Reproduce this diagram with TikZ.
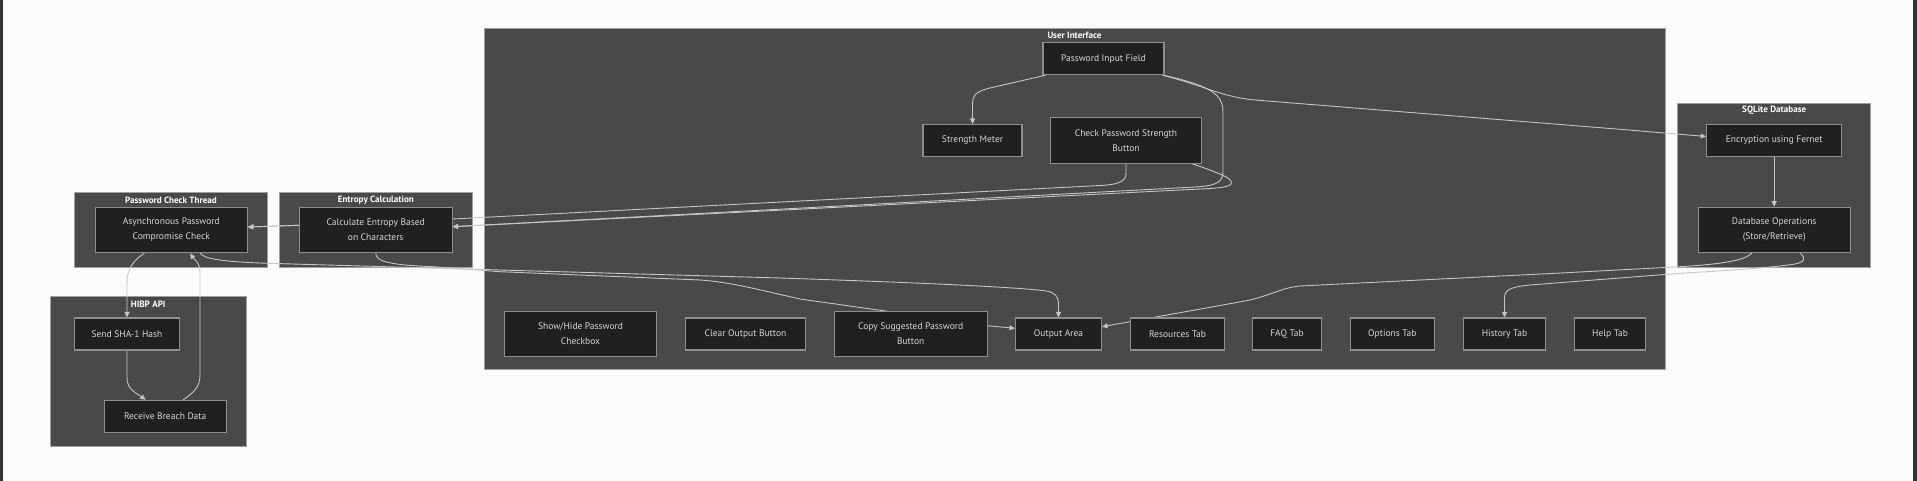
\documentclass[tikz,border=0pt]{standalone}
\usepackage{fontspec}
\setmainfont{PT Sans}
\usetikzlibrary{arrows.meta}
\definecolor{pagebg}{HTML}{FBFBFB}
\definecolor{framebar}{HTML}{333333}
\definecolor{clfill}{HTML}{484948}
\definecolor{clline}{HTML}{A0A0A0}
\definecolor{ndfill}{HTML}{1F2020}
\definecolor{ndline}{HTML}{8E8E8E}
\definecolor{ndtext}{HTML}{D6D6D6}
\definecolor{edgecol}{HTML}{C6C6C6}
\pgfdeclarelayer{bg}
\pgfdeclarelayer{edges}
\pgfsetlayers{bg,edges,main}
\tikzset{
  box/.style={draw=ndline, fill=ndfill, line width=1.1pt, text=ndtext,
    font=\fontsize{9.5}{15}\selectfont, align=center, inner sep=0pt, minimum height=32pt},
  tallbox/.style={box, minimum height=45.5pt},
  cluster/.style={draw=clline, fill=clfill, line width=0.9pt, inner sep=0pt},
  ctitle/.style={text=white, font=\fontsize{9.1}{12}\selectfont\bfseries, inner sep=0pt},
  flow/.style={draw=edgecol, line width=0.9pt},
  arr/.style={flow, -{Triangle[length=5.5pt,width=5pt]}},
}
\begin{document}
\begin{tikzpicture}[x=1pt,y=-1pt]
\begin{pgfonlayer}{bg}
  \fill[pagebg] (0,0) rectangle (1917,481);
  \useasboundingbox (0,0) rectangle (1917,481);
  \fill[framebar] (0,0) rectangle (3.3,481);
  \fill[framebar] (1913.3,0) rectangle (1917,481);
  % clusters
  \node[cluster, minimum width=1181pt, minimum height=341pt] (ui) at (1074.5,198.5) {};
  \node[cluster, minimum width=193pt, minimum height=164pt] (sql) at (1774.2,185.3) {};
  \node[cluster, minimum width=193.4pt, minimum height=74.6pt] (pct) at (171,230) {};
  \node[cluster, minimum width=193pt, minimum height=74.6pt] (ent) at (375.8,230) {};
  \node[cluster, minimum width=196.3pt, minimum height=150pt] (hibp) at (148.2,371.7) {};
\end{pgfonlayer}
% cluster titles
\node[ctitle] (uit) at (1074.5,35) {User Interface};
\node[ctitle] (sqlt) at (1774.2,110.7) {SQLite Database};
\node[ctitle] (pctt) at (171,200) {Password Check Thread};
\node[ctitle] (entt) at (375.8,200) {Entropy Calculation};
\node[ctitle] (hibpt) at (148.2,304) {HIBP API};
% nodes
\node[box, minimum width=121pt] (pif) at (1103.5,58.7) {Password Input Field};
\node[box, minimum width=99pt] (sm) at (972.5,140.5) {Strength Meter};
\node[tallbox, minimum width=151.6pt] (chk) at (1126,140.5) {Check Password Strength\\Button};
\node[box, minimum width=135pt] (enc) at (1774.2,140.5) {Encryption using Fernet};
\node[tallbox, minimum width=151.7pt] (dbo) at (1774.2,230) {Database Operations\\(Store/Retrieve)};
\node[tallbox, minimum width=152pt] (async) at (171.3,230) {Asynchronous Password\\Compromise Check};
\node[tallbox, minimum width=152.7pt] (calc) at (375.7,230) {Calculate Entropy Based\\on Characters};
\node[box, minimum width=105.4pt] (send) at (127,334) {Send SHA-1 Hash};
\node[box, minimum width=121.7pt] (recv) at (165.2,416.3) {Receive Breach Data};
\node[tallbox, minimum width=152.5pt] (show) at (580.5,334) {Show/Hide Password\\Checkbox};
\node[box, minimum width=120.3pt] (clear) at (745.5,334) {Clear Output Button};
\node[tallbox, minimum width=152.8pt] (copy) at (910.7,334) {Copy Suggested Password\\Button};
\node[box, minimum width=86pt] (out) at (1058.5,334) {Output Area};
\node[box, minimum width=94pt] (res) at (1177.5,334) {Resources Tab};
\node[box, minimum width=68.5pt] (faq) at (1287,334) {FAQ Tab};
\node[box, minimum width=84.5pt] (opt) at (1392.3,334) {Options Tab};
\node[box, minimum width=82pt] (his) at (1504.5,334) {History Tab};
\node[box, minimum width=71pt] (help) at (1610.1,334) {Help Tab};
% edges
\begin{pgfonlayer}{edges}
  % PIF -> Strength Meter
  \draw[arr] ([xshift=3pt]pif.south west) -- (990,88) .. controls (975,92) and (972.5,95) .. (972.5,106) -- (sm.north);
  % PIF -> Encryption
  \draw[arr] ([xshift=-2pt]pif.south east) .. controls (1205,86) and (1222,97) .. (1255,100) -- (1620,129.3) -- ([yshift=4pt]enc.west);
  % PIF -> Calc
  \draw[arr] ([xshift=-1pt]pif.south east) .. controls (1212,86) and (1223,95) .. (1223,112) -- (1223,172) .. controls (1223,183) and (1214,186) .. (1195,187) -- ([yshift=3.3pt]calc.east);
  % Check (loop) -> Calc
  \draw[arr] ([xshift=-10pt]chk.south east) .. controls (1222,174) and (1234,179) .. (1231,184) .. controls (1228,188) and (1212,188.5) .. (1190,189.5) -- ([yshift=3.3pt]calc.east);
  % Check -> Async (passes under Calc)
  \draw[arr] (chk.south) -- (1126,173) .. controls (1126,182) and (1118,184.5) .. (1100,185.5) -- ([yshift=11pt]calc.east) -- ([yshift=4.7pt]calc.west) -- ([yshift=3pt]async.east);
  % Calc -> Async
  \draw[arr] ([yshift=4.7pt]calc.west) -- ([yshift=3pt]async.east);
  % Async -> Send
  \draw[arr] ([xshift=-27pt]async.south) .. controls (134,260) and (127,268) .. (127,283) -- (send.north);
  % Send -> Receive
  \draw[arr] (send.south) -- (127,378) .. controls (127,389) and (136,393) .. ([xshift=-19.5pt]recv.north);
  % Receive -> Async
  \draw[arr] ([xshift=18pt]recv.north) .. controls (195,392) and (200,386) .. (200,375) -- (200,272) .. controls (200,262) and (193,258) .. ([xshift=19pt]async.south);
  % Async -> Output
  \draw[arr] ([xshift=29pt]async.south) .. controls (204,258) and (215,261.5) .. (268,263.3) -- (500,270) -- (780,278) .. controls (900,282) and (1020,287) .. (1046,291) .. controls (1055,292.5) and (1058.5,296) .. (1058.5,305) -- (out.north);
  % Calc -> Output (passes under Copy)
  \draw[arr] (calc.south) .. controls (375.7,262) and (392,265) .. (433,266.7) -- (500,271.7) -- (700,280) .. controls (730,282) and (760,290) .. (800,299) -- ([xshift=-27.7pt]copy.north) -- ([yshift=8.3pt]copy.east) -- ([yshift=5.7pt]out.west);
  % Encryption -> DB operations
  \draw[arr] (enc.south) -- (dbo.north);
  % DB operations -> Output
  \draw[arr] ([xshift=-22.5pt]dbo.south) .. controls (1745,260) and (1725,264) .. (1680,266.7) -- (1555,273.3) -- (1300,286) .. controls (1280,288) and (1270,296) .. (1245,301) -- ([yshift=7.3pt]out.east);
  % DB operations -> History
  \draw[arr] ([xshift=26pt]dbo.south) .. controls (1806,258) and (1805,262) .. (1795,264) .. controls (1770,268) and (1720,271) .. (1680,273.3) -- (1530,285) .. controls (1510,287) and (1504.5,290) .. (1504.5,298) -- (his.north);
\end{pgfonlayer}
\end{tikzpicture}
\end{document}
